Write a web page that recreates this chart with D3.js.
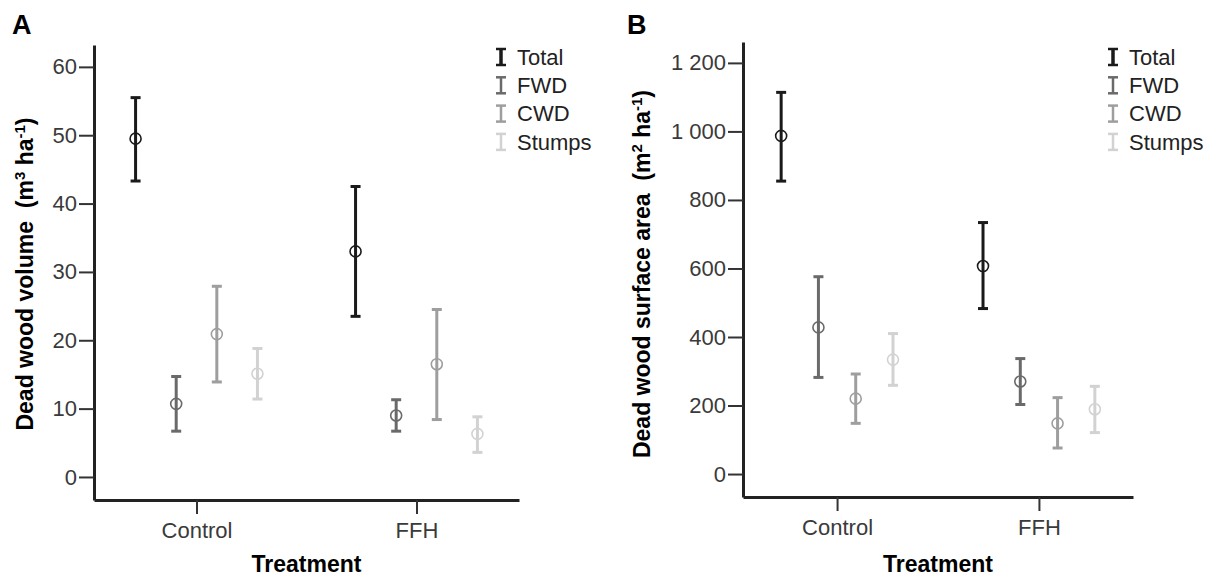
<!DOCTYPE html>
<html>
<head>
<meta charset="utf-8">
<script src="https://cdn.jsdelivr.net/npm/d3@7"></script>
<style>
  body { margin: 0; background: #fff; }
  svg { display: block; font-family: "Liberation Sans", Arial, sans-serif; }
</style>
</head>
<body>
<svg id="chart" width="1224" height="578"></svg>
<script>
// ---------------- data ----------------
const treatments = ["Control", "FFH"];
const series = ["Total", "FWD", "CWD", "Stumps"];
const seriesColors = ["#1a1a1a", "#6a6a6a", "#9e9e9e", "#d2d2d2"];

// Panel A: dead wood volume (m3 ha-1) — [Control, FFH]
const volMean  = { Total: [49.5, 33.0], FWD: [10.7, 9.0], CWD: [20.9, 16.5], Stumps: [15.1, 6.3] };
const volLow   = { Total: [43.3, 23.5], FWD: [6.7, 6.7],  CWD: [13.9, 8.4],  Stumps: [11.4, 3.6] };
const volHigh  = { Total: [55.5, 42.5], FWD: [14.7, 11.3], CWD: [27.9, 24.5], Stumps: [18.8, 8.8] };
const volTicks = [0, 10, 20, 30, 40, 50, 60];

// Panel B: dead wood surface area (m2 ha-1) — [Control, FFH]
const areaMean = { Total: [987, 607], FWD: [428, 270], CWD: [220, 148], Stumps: [334, 189] };
const areaLow  = { Total: [855, 483], FWD: [282, 203], CWD: [148, 76],  Stumps: [259, 121] };
const areaHigh = { Total: [1114, 734], FWD: [576, 337], CWD: [292, 223], Stumps: [410, 256] };
const areaTicks = [0, 200, 400, 600, 800, 1000, 1200];

// ---------------- drawing ----------------
const svg = d3.select("#chart");
const color = d3.scaleOrdinal().domain(series).range(seriesColors);
const spaceFmt = d3.formatLocale({ decimal: ".", thousands: "\u00a0", grouping: [3], currency: ["", ""] }).format(",d");

function panel(cfg) {
  const g = svg.append("g");
  const x = d3.scalePoint().domain(treatments).range([cfg.x0, cfg.x1]).padding(0.466);
  const step = x.step();
  const inner = d3.scalePoint().domain(series).range([-0.277 * step, 0.277 * step]);
  const y = d3.scaleLinear().domain(cfg.domain).range([cfg.yBottom, cfg.yTop]);

  // y axis
  const yAxis = g.append("g").attr("transform", `translate(${cfg.x0},0)`)
    .call(d3.axisLeft(y).tickValues(cfg.ticks).tickSize(15).tickPadding(2).tickSizeOuter(0).tickFormat(cfg.fmt));
  yAxis.select(".domain").attr("stroke", "#222").attr("stroke-width", 3);
  yAxis.selectAll(".tick line").attr("stroke", "#333").attr("stroke-width", 2);
  yAxis.selectAll(".tick text").attr("fill", "#3a3a3a").style("font-size", "22px").attr("font-family", null);

  // x axis
  const xAxis = g.append("g").attr("transform", `translate(0,${cfg.yBottom})`)
    .call(d3.axisBottom(x).tickSize(14).tickPadding(8).tickSizeOuter(0));
  xAxis.select(".domain").attr("stroke", "#222").attr("stroke-width", 3);
  xAxis.selectAll(".tick line").attr("stroke", "#333").attr("stroke-width", 2);
  xAxis.selectAll(".tick text").attr("fill", "#3a3a3a").style("font-size", "22px").attr("font-family", null);

  // error bars
  const rows = [];
  series.forEach(s => treatments.forEach((t, i) => {
    rows.push({ s, t, m: cfg.mean[s][i], lo: cfg.low[s][i], hi: cfg.high[s][i] });
  }));
  const eb = g.append("g").selectAll("g").data(rows).join("g")
    .attr("transform", d => `translate(${x(d.t) + inner(d.s)},0)`);
  eb.append("line").attr("y1", d => y(d.lo)).attr("y2", d => y(d.hi))
    .attr("stroke", d => color(d.s)).attr("stroke-width", 3);
  eb.append("line").attr("x1", -5).attr("x2", 5).attr("y1", d => y(d.hi)).attr("y2", d => y(d.hi))
    .attr("stroke", d => color(d.s)).attr("stroke-width", 3);
  eb.append("line").attr("x1", -5).attr("x2", 5).attr("y1", d => y(d.lo)).attr("y2", d => y(d.lo))
    .attr("stroke", d => color(d.s)).attr("stroke-width", 3);
  eb.append("circle").attr("cy", d => y(d.m)).attr("r", 5.5)
    .attr("fill", "none").attr("stroke", d => color(d.s)).attr("stroke-width", 1.6);

  // legend
  const leg = g.append("g").attr("transform", `translate(${cfg.legX},${cfg.legY})`);
  const li = leg.selectAll("g").data(series).join("g")
    .attr("transform", (d, i) => `translate(0,${i * 28.3})`);
  li.append("line").attr("x1", 0).attr("x2", 0).attr("y1", -8).attr("y2", 8)
    .attr("stroke", d => color(d)).attr("stroke-width", (d, i) => i === 0 ? 3.5 : 2.5);
  li.append("line").attr("x1", -5).attr("x2", 5).attr("y1", -8).attr("y2", -8)
    .attr("stroke", d => color(d)).attr("stroke-width", 2.5);
  li.append("line").attr("x1", -5).attr("x2", 5).attr("y1", 8).attr("y2", 8)
    .attr("stroke", d => color(d)).attr("stroke-width", 2.5);
  li.append("text").attr("x", 16).attr("y", 0).attr("dy", "0.35em")
    .attr("fill", "#222").style("font-size", "22px").text(d => d);

  // y label
  const yl = g.append("text")
    .attr("transform", `translate(${cfg.yLabX},${cfg.yLabY}) rotate(-90)`)
    .attr("text-anchor", "middle").attr("font-weight", "bold").style("font-size", "23px")
    .style("white-space", "pre").attr("fill", "#000");
  yl.append("tspan").text(cfg.yLabel + "  (m");
  yl.append("tspan").attr("baseline-shift", "super").style("font-size", "15px").text(cfg.sup);
  yl.append("tspan").text(" ha");
  yl.append("tspan").attr("baseline-shift", "super").style("font-size", "15px").text("-1");
  yl.append("tspan").text(")");

  // x label
  g.append("text").attr("x", (cfg.x0 + cfg.x1) / 2).attr("y", 572)
    .attr("text-anchor", "middle").attr("font-weight", "bold").style("font-size", "23px").attr("fill", "#000")
    .text("Treatment");

  // panel letter
  g.append("text").attr("x", cfg.letterX).attr("y", 34)
    .attr("font-weight", "bold").style("font-size", "27px").attr("fill", "#000").text(cfg.letter);
}

panel({
  letter: "A", letterX: 12,
  x0: 94, x1: 519, yTop: 45, yBottom: 500, domain: [-3.37, 63.2],
  ticks: volTicks, fmt: d3.format("d"),
  mean: volMean, low: volLow, high: volHigh,
  legX: 501, legY: 57,
  yLabel: "Dead wood volume", sup: "3", yLabX: 33, yLabY: 274
});

panel({
  letter: "B", letterX: 627,
  x0: 743, x1: 1133, yTop: 42, yBottom: 497, domain: [-67, 1261],
  ticks: areaTicks, fmt: spaceFmt,
  mean: areaMean, low: areaLow, high: areaHigh,
  legX: 1113, legY: 57,
  yLabel: "Dead wood surface area", sup: "2", yLabX: 650, yLabY: 274
});
</script>
</body>
</html>
